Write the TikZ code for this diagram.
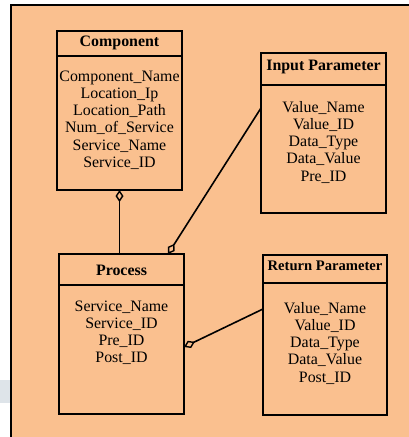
\documentclass[tikz,border=0pt]{standalone}
\usepackage{fontspec}
\setmainfont{Liberation Serif}
\usetikzlibrary{arrows.meta,calc}
\definecolor{peach}{RGB}{250,192,143}
\definecolor{smudge}{RGB}{222,228,233}
\begin{document}
\begin{tikzpicture}[x=1pt,y=-1pt,
  entity/.style={draw=black,line width=1.6pt,rectangle,inner sep=0pt,outer sep=0pt,minimum width=125pt,minimum height=160pt},
  txt/.style={font=\rmfamily\fontsize{15.9}{17.3}\selectfont,inner sep=0pt,text height=11pt,text depth=3pt},
  ttl/.style={txt,font=\rmfamily\fontsize{15.9}{17.3}\selectfont\bfseries},
  divider/.style={line width=1.6pt},
  link/.style={line width=1.6pt},
  agg/.style={link,{Diamond[open,length=12pt,width=8pt,line width=1.4pt]}-}
]
\useasboundingbox (0,0) rectangle (408,437);
\fill[smudge] (0,380) rectangle (11,403);
\draw[fill=peach,line width=1.8pt] (11,5) rectangle (420,450);

% Component
\node[entity,minimum height=159pt] (comp) at (119.5,110.5) {};
\draw[divider] ([yshift=-25pt]comp.north west) -- ([yshift=-25pt]comp.north east);
\node[ttl] (compT) at (119.5,42) {Component};
\foreach \t [count=\i] in {Component\_Name,Location\_Ip,Location\_Path,Num\_of\_Service,Service\_Name,Service\_ID}
  \node[txt] (c\i) at (119.5,{77+(\i-1)*17.25}) {\t};

% Input Parameter
\node[entity] (inp) at (323.5,133) {};
\draw[divider] ([yshift=-32pt]inp.north west) -- ([yshift=-32pt]inp.north east);
\node[ttl] (inpT) at (323.5,66) {Input Parameter};
\foreach \t [count=\i] in {Value\_Name,Value\_ID,Data\_Type,Data\_Value,Pre\_ID}
  \node[txt] (i\i) at (323.5,{108+(\i-1)*17.25}) {\t};

% Process
\node[entity] (proc) at (121.5,334) {};
\draw[divider] ([yshift=-31pt]proc.north west) -- ([yshift=-31pt]proc.north east);
\node[ttl] (procT) at (121.5,271) {Process};
\foreach \t [count=\i] in {Service\_Name,Service\_ID,Pre\_ID,Post\_ID}
  \node[txt] (p\i) at (121.5,{307+(\i-1)*17.3}) {\t};

% Return Parameter
\node[entity,minimum width=124pt] (ret) at (325,335) {};
\draw[divider] ([yshift=-28pt]ret.north west) -- ([yshift=-28pt]ret.north east);
\node[ttl,font=\rmfamily\fontsize{14.6}{16}\selectfont\bfseries] (retT) at (325,266) {Return Parameter};
\foreach \t [count=\i] in {Value\_Name,Value\_ID,Data\_Type,Data\_Value,Post\_ID}
  \node[txt] (r\i) at (325,{309+(\i-1)*17.25}) {\t};

% Connectors
\draw[agg] (comp.south) -- (comp.south |- proc.north);
\draw[agg] ($(proc.north west)!0.872!(proc.north east)$) -- (inp.west |- i1);
\draw[agg] ([yshift=-13pt]proc.east) -- (ret.west |- r1);
\end{tikzpicture}
\end{document}
